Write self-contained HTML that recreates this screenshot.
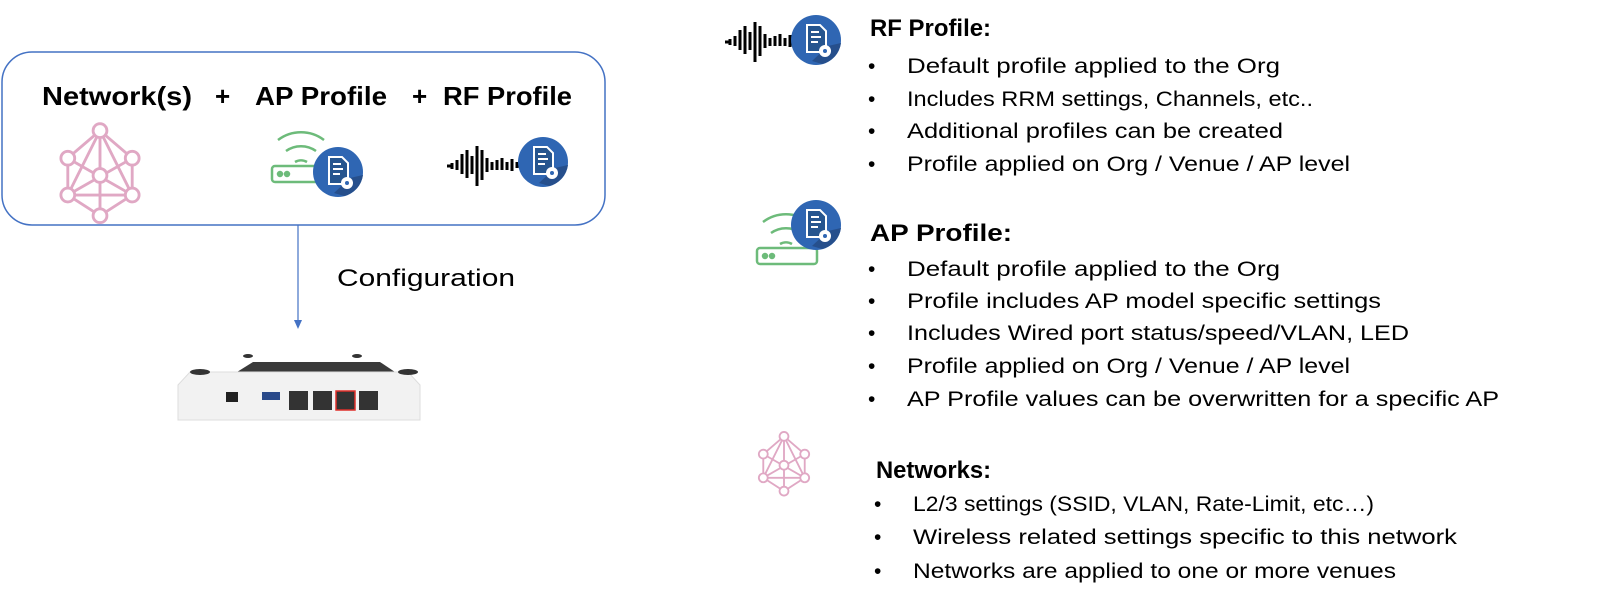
<!DOCTYPE html>
<html><head><meta charset="utf-8"><style>
html,body{margin:0;padding:0;background:#fff;width:1600px;height:615px;overflow:hidden}
text{font-family:"Liberation Sans",sans-serif;fill:#000}
</style></head><body>
<svg width="1600" height="615" viewBox="0 0 1600 615" xmlns="http://www.w3.org/2000/svg">
<defs>
<g id="doc">
<circle cx="0" cy="0" r="25" fill="#2f66b3"/>
<path d="M-4,21 L12,6 L25,3 A25,25 0 0 1 6,24Z" fill="#264f8c"/>
<path d="M-9,-15 H4 L10,-9 V12 H-9Z" fill="#26558f" stroke="#fff" stroke-width="2"/>
<path d="M-5,-8 h8 M-5,-3 h10 M-5,2 h7" stroke="#fff" stroke-width="2"/>
<circle cx="9" cy="11" r="6" fill="#fff"/>
<circle cx="9" cy="11" r="2" fill="#2f66b3"/>
</g>
<g id="net" stroke="#e0a8c4" stroke-width="2.5" fill="none">
<path d="M0,-36 L-28,-12 L-28,20 L0,38 L28,20 L28,-12Z"/>
<path d="M0,-36 V38 M-28,-12 L28,20 M28,-12 L-28,20 M0,-36 L-28,20 M0,-36 L28,20 M-28,20 H28"/>
<g fill="#fff"><circle cx="0" cy="-36" r="6"/><circle cx="-28" cy="-12" r="6"/><circle cx="28" cy="-12" r="6"/><circle cx="-28" cy="20" r="6"/><circle cx="28" cy="20" r="6"/><circle cx="0" cy="38" r="6"/><circle cx="0" cy="3" r="6"/></g>
</g>
<g id="router" stroke="#6dbb7a" stroke-width="2.5" fill="none">
<rect x="-40" y="10" width="60" height="16" rx="3"/>
<circle cx="-32" cy="18" r="2" fill="#6dbb7a"/><circle cx="-25" cy="18" r="2" fill="#6dbb7a"/>
<path d="M-34,-16 A38,38 0 0 1 12,-16 M-26,-5 A26,26 0 0 1 4,-5 M-17,6 A12,12 0 0 1 -5,6"/>
</g>
<g id="wave" stroke="#000" stroke-width="3">
<path d="M-60,0 h4 M-55,-3 v6 M-50,-6 v10 M-45,-12 v20 M-40,-16 v28 M-35,-10 v18 M-30,-20 v40 M-25,-16 v30 M-20,-8 v14 M-15,-4 v8 M-10,-6 v10 M-5,-8 v12 M0,-4 v8 M5,-7 v12 M10,-4 v6 M15,-2 v4"/>
</g>
</defs>

<rect x="2" y="52" width="603" height="173" rx="30" fill="none" stroke="#4472c4" stroke-width="1.5"/>
<g font-weight="bold" font-size="26">
<text x="42" y="105" textLength="150" lengthAdjust="spacingAndGlyphs">Network(s)</text>
<text x="215" y="105">+</text>
<text x="255" y="105" textLength="132" lengthAdjust="spacingAndGlyphs">AP Profile</text>
<text x="412" y="105">+</text>
<text x="443" y="105" textLength="129" lengthAdjust="spacingAndGlyphs">RF Profile</text>
</g>
<g transform="translate(100,172) scale(1.15)"><use href="#net"/></g>
<use href="#router" x="312" y="156"/>
<use href="#doc" x="338" y="172"/>
<use href="#wave" x="507" y="166"/>
<use href="#doc" x="543" y="162"/>

<line x1="298" y1="225" x2="298" y2="322" stroke="#4472c4" stroke-width="1.2"/>
<path d="M294,320 L302,320 L298,329Z" fill="#4472c4"/>
<text x="337" y="286" font-size="24" textLength="178" lengthAdjust="spacingAndGlyphs">Configuration</text>

<path d="M237,372 L253,362 L380,362 L395,372Z" fill="#3a3a3a"/>
<path d="M190,372 H408 L420,385 V420 H178 V385Z" fill="#f2f2f2" stroke="#ddd"/>
<ellipse cx="200" cy="372" rx="10" ry="3" fill="#333"/><ellipse cx="408" cy="372" rx="10" ry="3" fill="#333"/>
<ellipse cx="248" cy="356" rx="5" ry="2" fill="#333"/><ellipse cx="357" cy="356" rx="5" ry="2" fill="#333"/>
<rect x="226" y="392" width="12" height="10" fill="#222"/>
<rect x="262" y="392" width="18" height="8" fill="#2a4a8a"/>
<rect x="289" y="391" width="19" height="19" fill="#333"/>
<rect x="313" y="391" width="19" height="19" fill="#333"/>
<rect x="336" y="391" width="19" height="19" fill="#333" stroke="#e0302a" stroke-width="1.5"/>
<rect x="359" y="391" width="19" height="19" fill="#333"/>

<use href="#wave" x="785" y="42"/>
<use href="#doc" x="816" y="40"/>
<text x="870" y="36" font-size="24" font-weight="bold" textLength="121" lengthAdjust="spacingAndGlyphs">RF Profile:</text>
<g font-size="21">
<text x="868" y="73">•</text><text x="907" y="73" textLength="373" lengthAdjust="spacingAndGlyphs">Default profile applied to the Org</text>
<text x="868" y="106">•</text><text x="907" y="106" textLength="406" lengthAdjust="spacingAndGlyphs">Includes RRM settings, Channels, etc..</text>
<text x="868" y="138">•</text><text x="907" y="138" textLength="376" lengthAdjust="spacingAndGlyphs">Additional profiles can be created</text>
<text x="868" y="171">•</text><text x="907" y="171" textLength="443" lengthAdjust="spacingAndGlyphs">Profile applied on Org / Venue / AP level</text>
</g>

<use href="#router" x="797" y="238"/>
<use href="#doc" x="816" y="225"/>
<text x="870" y="241" font-size="24" font-weight="bold" textLength="142" lengthAdjust="spacingAndGlyphs">AP Profile:</text>
<g font-size="21">
<text x="868" y="276">•</text><text x="907" y="276" textLength="373" lengthAdjust="spacingAndGlyphs">Default profile applied to the Org</text>
<text x="868" y="308">•</text><text x="907" y="308" textLength="474" lengthAdjust="spacingAndGlyphs">Profile includes AP model specific settings</text>
<text x="868" y="340">•</text><text x="907" y="340" textLength="502" lengthAdjust="spacingAndGlyphs">Includes Wired port status/speed/VLAN,  LED</text>
<text x="868" y="373">•</text><text x="907" y="373" textLength="443" lengthAdjust="spacingAndGlyphs">Profile applied on Org / Venue / AP level</text>
<text x="868" y="406">•</text><text x="907" y="406" textLength="592" lengthAdjust="spacingAndGlyphs">AP Profile values can be overwritten for a specific AP</text>
</g>

<g transform="translate(784,463) scale(0.74)"><use href="#net"/></g>
<text x="876" y="478" font-size="24" font-weight="bold" textLength="115" lengthAdjust="spacingAndGlyphs">Networks:</text>
<g font-size="21">
<text x="874" y="511">•</text><text x="913" y="511" textLength="461" lengthAdjust="spacingAndGlyphs">L2/3 settings (SSID, VLAN, Rate-Limit, etc…)</text>
<text x="874" y="544">•</text><text x="913" y="544" textLength="544" lengthAdjust="spacingAndGlyphs">Wireless related settings specific to this network</text>
<text x="874" y="578">•</text><text x="913" y="578" textLength="483" lengthAdjust="spacingAndGlyphs">Networks are applied to one or more venues</text>
</g>
</svg>
</body></html>
